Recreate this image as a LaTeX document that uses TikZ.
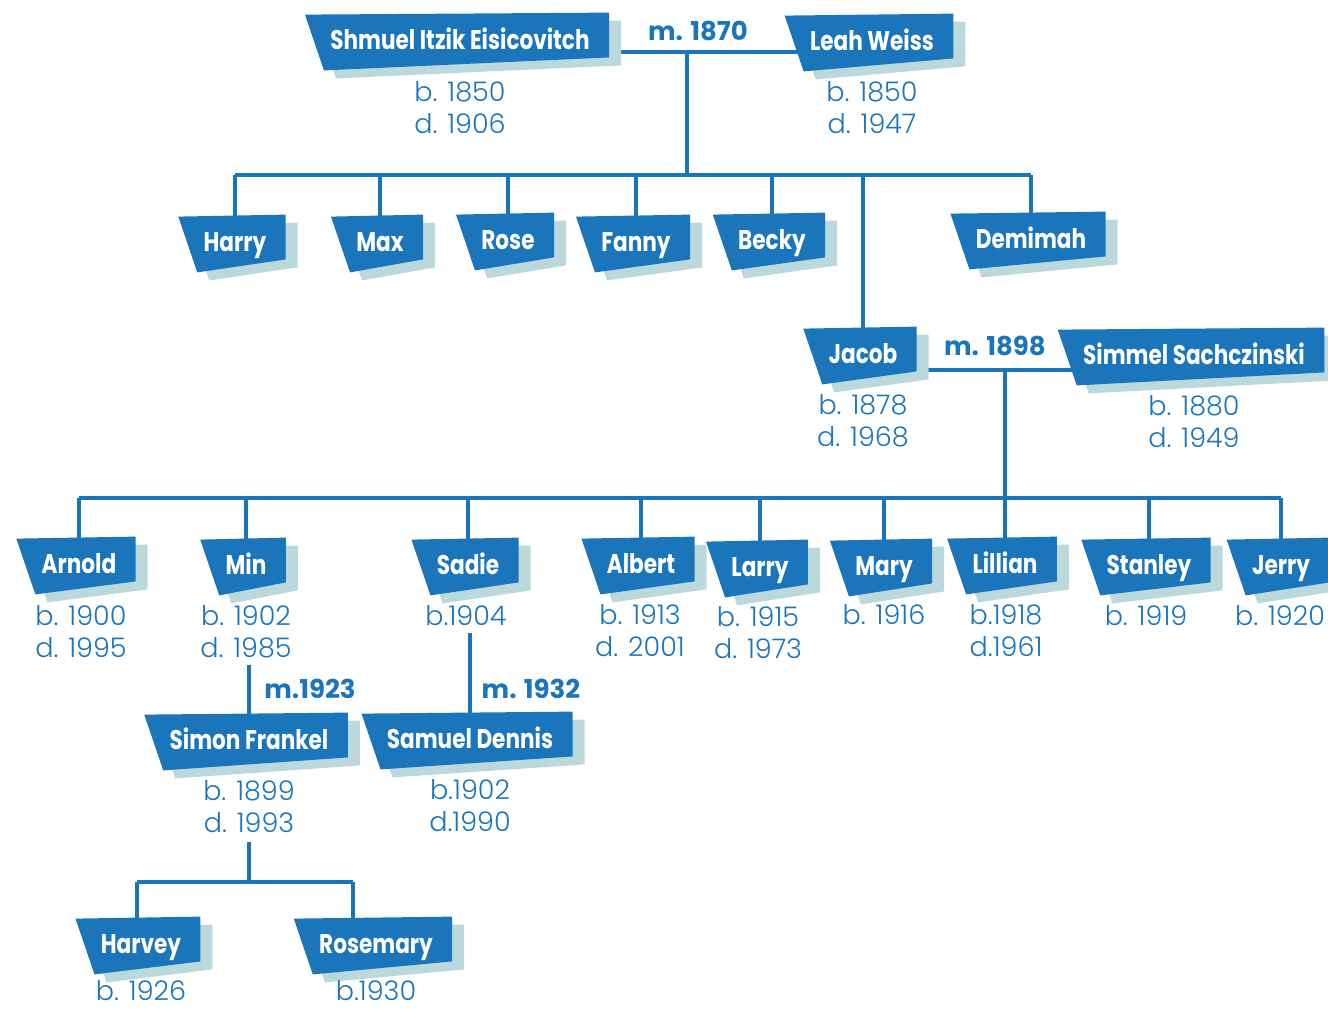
\documentclass[tikz,border=0pt]{standalone}
\usepackage{fontspec}
\setmainfont{Poppins}
\newfontfamily\namefont{Poppins}[FakeStretch=0.8]
\newfontfamily\datefont{Poppins Light}
\usetikzlibrary{calc}

\definecolor{famblue}{HTML}{1B75BB}
\definecolor{shadowblue}{HTML}{BBD9DC}

\pgfdeclarelayer{lines}
\pgfdeclarelayer{ban}
\pgfsetlayers{lines,ban,main}

\tikzset{
  person/.style={inner sep=0pt, text=white, text height=10pt, text depth=0pt,
    font=\namefont\bfseries\fontsize{13.5}{14}\selectfont},
  dates/.style={inner sep=0pt, text=famblue, align=center,
    font=\datefont\fontsize{13.5}{16}\selectfont},
  wed/.style={inner sep=0pt, text=famblue,
    font=\bfseries\fontsize{13}{14}\selectfont},
  link/.style={famblue, line width=2pt},
}

% skewed banner with its shadow behind a name
\newcommand\banner[1]{%
  \begin{pgfonlayer}{ban}
    \foreach \dx/\dy/\col in {12/8/shadowblue,0/0/famblue}
      \fill[\col] ($(#1.north west)+(-25+\dx,-14+\dy)$) -- ($(#1.north east)+(19+\dx,-16+\dy)$)
        -- ($(#1.south east)+(19+\dx,8+\dy)$) -- ($(#1.south west)+(-6+\dx,21+\dy)$) -- cycle;
  \end{pgfonlayer}}
\newcommand\person[3]{\node[person] (#1) at (#2) {#3};\banner{#1}}

\begin{document}
\begin{tikzpicture}[x=0.5pt,y=-0.5pt]
\useasboundingbox (0,0) rectangle (1328,1009);

% parents
\person{shmuel}{460,39}{Shmuel Itzik Eisicovitch}
\person{leah}{872,40}{Leah Weiss}
\node[wed] (m1870) at (698,31) {m. 1870};
\node[dates] (shmueld) at (460,108) {b. 1850\\d. 1906};
\node[dates] (leahd) at (872,108) {b. 1850\\d. 1947};

% their children
\person{harry}{235,241}{Harry}
\person{max}{380,241}{Max}
\person{rose}{508,239}{Rose}
\person{fanny}{636,241}{Fanny}
\person{becky}{772,239}{Becky}
\person{demimah}{1031,238}{Demimah}
\person{jacob}{863,353}{Jacob}
\person{simmel}{1194,354}{Simmel Sachczinski}
\node[wed] (m1898) at (995,346) {m. 1898};
\node[dates] (jacobd) at (863,421) {b. 1878\\d. 1968};
\node[dates] (simmeld) at (1194,422) {b. 1880\\d. 1949};

% grandchildren
\person{arnold}{79,563}{Arnold}
\person{min}{246,564}{Min}
\person{sadie}{468,564}{Sadie}
\person{albert}{641,563}{Albert}
\person{larry}{760,566}{Larry}
\person{mary}{884,565}{Mary}
\person{lillian}{1005,563}{Lillian}
\person{stanley}{1149,564}{Stanley}
\person{jerry}{1281,564}{Jerry}
\node[dates] (arnoldd) at (81,632) {b. 1900\\d. 1995};
\node[dates] (mind) at (246,632) {b. 1902\\d. 1985};
\node[dates] (sadied) at (466,616) {b.1904};
\node[dates] (albertd) at (640,631) {b. 1913\\d. 2001};
\node[dates] (larryd) at (758,633) {b. 1915\\d. 1973};
\node[dates] (maryd) at (884,615) {b. 1916};
\node[dates] (lilliand) at (1006,631) {b.1918\\d.1961};
\node[dates] (stanleyd) at (1146,616) {b. 1919};
\node[dates] (jerryd) at (1280,616) {b. 1920};

% spouses
\person{simon}{249,739}{Simon Frankel}
\person{samuel}{470,738}{Samuel Dennis}
\node[wed] (m1923) at (310,689) {m.1923};
\node[wed] (m1932) at (531,689) {m. 1932};
\node[dates] (simond) at (249,807) {b. 1899\\d. 1993};
\node[dates] (samueld) at (470,806) {b.1902\\d.1990};

% great-grandchildren
\person{harvey}{141,943}{Harvey}
\person{rosemary}{376,943}{Rosemary}
\node[dates] (harveyd) at (141,991) {b. 1926};
\node[dates] (rosemaryd) at (376,991) {b.1930};

\coordinate (m1) at (687,52);
\coordinate (c1) at (687,175);
\coordinate (m2) at (1005,370);
\coordinate (c2) at (1005,498);
\coordinate (c3) at (249,882);
\coordinate (hv) at (137,882);
\coordinate (rs) at (353,882);

\begin{pgfonlayer}{lines}
\draw[link] (shmuel.east |- m1) -- (leah.west |- m1);
\draw[link] (m1) -- (c1);
\draw[link] (c1 -| harry) -- (c1 -| demimah);
\foreach \k in {harry,max,rose,fanny,becky,jacob,demimah}
  \draw[link] (c1 -| \k) -- (\k.north);
\draw[link] (jacob.east |- m2) -- (simmel.west |- m2);
\draw[link] (m2) -- (c2);
\draw[link] (c2 -| arnold) -- (c2 -| jerry);
\foreach \k in {arnold,min,sadie,albert,larry,mary,lillian,stanley,jerry}
  \draw[link] (c2 -| \k) -- (\k.north);
\draw[link, shorten <=3pt] (simon.north |- mind.south) -- (simon.north);
\draw[link, shorten <=3pt] (samuel.north |- sadied.south) -- (samuel.north);
\draw[link, shorten <=4pt] (c3 |- simond.south) -- (c3);
\draw[link] (hv) -- (rs);
\draw[link] (hv) -- (hv |- harvey.north);
\draw[link] (rs) -- (rs |- rosemary.north);
\end{pgfonlayer}
\end{tikzpicture}
\end{document}
